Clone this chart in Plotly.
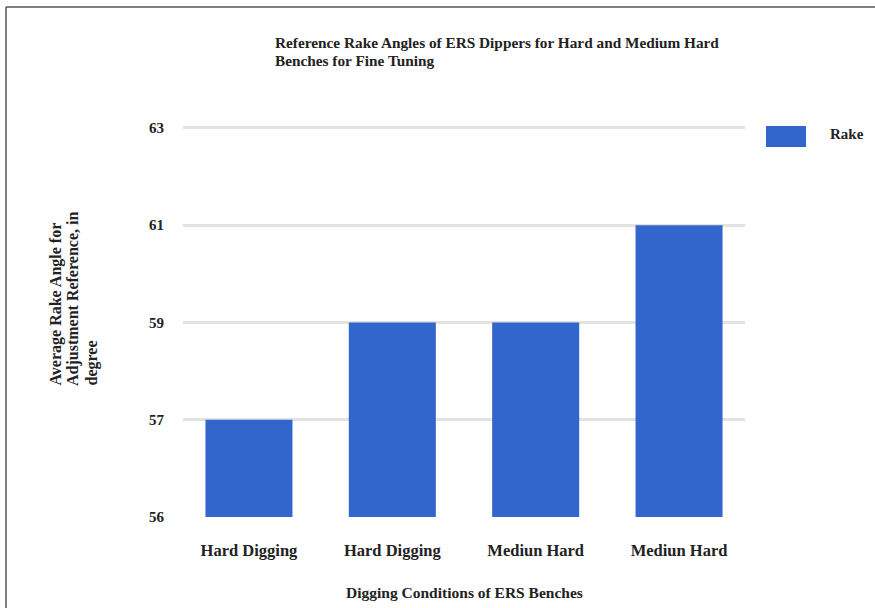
import plotly.graph_objects as go

# Data
conditions = ["Hard Digging", "Hard Digging", "Mediun Hard", "Mediun Hard"]
rake_angles = ["57", "59", "59", "61"]          # average rake angle, degrees
angle_ticks = ["56", "57", "59", "61", "63"]    # y-axis scale labels
series_name = "Rake"
chart_title = ["Reference Rake Angles of ERS Dippers for Hard and Medium Hard",
               "Benches for Fine Tuning"]
y_title = ["Average Rake Angle for", "Adjustment Reference, in", "degree"]
x_title = "Digging Conditions of ERS Benches"

W, H = 875, 608
L, R, T, B = 183, 130, 126, 90
PW, PH = W - L - R, H - T - B


def px_x(x):
    return (x - L) / PW


def px_y(y):
    return 1 - (y - T) / PH


SERIF = "Liberation Serif, Times New Roman, serif"
BLUE = "#3366cc"
INK = "#222"


def bold(size):
    return dict(family=SERIF, size=size, color=INK, weight="bold")


fig = go.Figure()
fig.add_trace(go.Bar(
    x=list(range(len(conditions))),
    y=rake_angles,
    name=series_name,
    marker=dict(color=BLUE, line=dict(width=0)),
    showlegend=False,
))

fig.update_layout(
    width=W, height=H,
    margin=dict(l=L, r=R, t=T, b=B),
    paper_bgcolor="white", plot_bgcolor="white",
    bargap=0.393,
    font=dict(family=SERIF, size=13, color=INK),
    xaxis=dict(
        tickmode="array",
        tickvals=list(range(len(conditions))),
        ticktext=conditions,
        range=[-0.46, len(conditions) - 0.54],
        showgrid=False, zeroline=False, showline=False,
        ticks="", ticklabelstandoff=20,
        tickfont=bold(16.5),
    ),
    yaxis=dict(
        type="category",
        categoryorder="array",
        categoryarray=angle_ticks,
        range=[-0.01, 4.02],
        showgrid=True, gridcolor="#e2e2e2", gridwidth=2.5,
        zeroline=False, showline=False,
        ticks="", ticklabelstandoff=18,
        tickfont=bold(15),
    ),
)

annotations = []
# chart title, two lines
for i, line in enumerate(chart_title):
    annotations.append(dict(
        text=line, x=px_x(273), y=px_y(42 + 18 * i), xref="paper", yref="paper",
        xanchor="left", yanchor="middle", showarrow=False, font=bold(15.3)))
# y-axis title, rotated lines aligned at their start
for i, line in enumerate(y_title):
    annotations.append(dict(
        text=line, x=px_x(55 + 18 * i), y=px_y(388), xref="paper", yref="paper",
        xanchor="center", yanchor="bottom", textangle=-90, showarrow=False,
        font=bold(16)))
annotations += [
    dict(text=x_title, x=0.5, y=px_y(592), xref="paper", yref="paper",
         xanchor="center", yanchor="middle", showarrow=False, font=bold(15.5)),
    dict(text=series_name, x=px_x(828), y=px_y(134), xref="paper", yref="paper",
         xanchor="left", yanchor="middle", showarrow=False, font=bold(15)),
]

shapes = [
    # legend swatch
    dict(type="rect", xref="paper", yref="paper",
         x0=px_x(766), x1=px_x(806), y0=px_y(147), y1=px_y(126),
         fillcolor=BLUE, line=dict(width=0)),
    # frame lines along top and left
    dict(type="line", xref="paper", yref="paper",
         x0=px_x(6), x1=px_x(W + 5), y0=px_y(7), y1=px_y(7),
         line=dict(color="#555", width=1.5)),
    dict(type="line", xref="paper", yref="paper",
         x0=px_x(6), x1=px_x(6), y0=px_y(7), y1=px_y(H + 5),
         line=dict(color="#555", width=1.5)),
]

fig.update_layout(annotations=annotations, shapes=shapes)
fig.write_html("out.html")
